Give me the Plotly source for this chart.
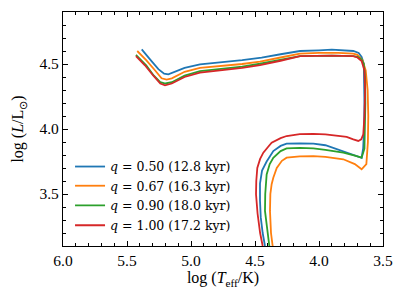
import plotly.graph_objects as go

# ---- data ----
labels = ["<i>q</i> = 0.50 (12.8 kyr)", "<i>q</i> = 0.67 (16.3 kyr)",
          "<i>q</i> = 0.90 (18.0 kyr)", "<i>q</i> = 1.00 (17.2 kyr)"]
colors = ["#1f77b4", "#ff7f0e", "#2ca02c", "#d62728"]

logT_q050 = [4.422, 4.44, 4.455, 4.461, 4.461, 4.445, 4.409, 4.357, 4.30, 4.253, 4.15, 4.044, 3.95, 3.81,
             3.72, 3.667, 3.655, 3.648, 3.645, 3.645, 3.65, 3.667, 3.69, 3.732, 3.80, 3.90, 4.0, 4.148,
             4.30, 4.448, 4.60, 4.80, 4.93, 5.05, 5.15, 5.177, 5.21, 5.255, 5.32, 5.385]
logL_q050 = [3.10, 3.20, 3.32, 3.45, 3.58, 3.68, 3.75, 3.83, 3.87, 3.887, 3.89, 3.887, 3.875, 3.83,
             3.80, 3.779, 3.85, 4.0, 4.2, 4.4, 4.5, 4.555, 4.585, 4.60, 4.605, 4.61, 4.605, 4.60,
             4.575, 4.549, 4.53, 4.51, 4.497, 4.47, 4.43, 4.42, 4.425, 4.46, 4.536, 4.613]

logT_q067 = [4.362, 4.375, 4.383, 4.38, 4.37, 4.357, 4.33, 4.29, 4.253, 4.15, 4.044, 3.95, 3.81, 3.72,
             3.667, 3.63, 3.618, 3.615, 3.62, 3.635, 3.66, 3.70, 3.732, 3.85, 4.0, 4.148, 4.30, 4.461,
             4.60, 4.80, 4.93, 5.05, 5.15, 5.19, 5.23, 5.28, 5.35, 5.42]
logL_q067 = [3.10, 3.20, 3.37, 3.50, 3.575, 3.625, 3.70, 3.755, 3.779, 3.79, 3.792, 3.785, 3.767, 3.73,
             3.69, 3.73, 3.90, 4.10, 4.30, 4.45, 4.53, 4.57, 4.58, 4.585, 4.585, 4.58, 4.55, 4.518,
             4.50, 4.485, 4.47, 4.44, 4.39, 4.38, 4.39, 4.45, 4.53, 4.60]

logT_q090 = [4.388, 4.41, 4.422, 4.42, 4.409, 4.385, 4.357, 4.30, 4.253, 4.15, 4.044, 3.95, 3.81, 3.72,
             3.667, 3.645, 3.64, 3.638, 3.64, 3.65, 3.667, 3.70, 3.732, 3.90, 4.148, 4.30, 4.461,
             4.60, 4.80, 4.93, 5.05, 5.15, 5.20, 5.24, 5.29, 5.35, 5.43]
logL_q090 = [3.10, 3.25, 3.37, 3.50, 3.65, 3.73, 3.779, 3.83, 3.851, 3.855, 3.851, 3.84, 3.818, 3.795,
             3.779, 3.85, 4.0, 4.2, 4.4, 4.5, 4.535, 4.555, 4.56, 4.565, 4.56, 4.53, 4.502,
             4.48, 4.46, 4.445, 4.41, 4.36, 4.35, 4.36, 4.41, 4.49, 4.57]

logT_q100 = [4.44, 4.46, 4.48, 4.492, 4.49, 4.482, 4.46, 4.435, 4.40, 4.37, 4.30, 4.253, 4.15, 4.044,
             3.95, 3.85, 3.784, 3.732, 3.693, 3.67, 3.654, 3.645, 3.64, 3.645, 3.667, 3.70, 3.732,
             3.90, 4.148, 4.30, 4.461, 4.60, 4.80, 4.93, 5.05, 5.15, 5.203, 5.24, 5.294, 5.36, 5.43]
logL_q100 = [3.10, 3.20, 3.35, 3.498, 3.60, 3.70, 3.77, 3.818, 3.86, 3.895, 3.93, 3.946, 3.96, 3.962,
             3.958, 3.95, 3.94, 3.92, 3.908, 3.92, 3.959, 4.10, 4.30, 4.45, 4.523, 4.55, 4.56,
             4.565, 4.56, 4.525, 4.492, 4.47, 4.45, 4.433, 4.40, 4.35, 4.336, 4.35, 4.41, 4.49, 4.56]

x_ticks = [6.0, 5.5, 5.0, 4.5, 4.0, 3.5]
y_ticks = [3.5, 4.0, 4.5]

series_x = [logT_q050, logT_q067, logT_q090, logT_q100]
series_y = [logL_q050, logL_q067, logL_q090, logL_q100]

FONT = "Liberation Serif"
LEG_FONT = "DejaVu Serif"

legend_names = ["legend", "legend2", "legend3", "legend4"]
legend_rows_y = [0.338, 0.256, 0.172, 0.087]   # paper-y of each legend row

fig = go.Figure()
for xs, ys, lab, col, lg in zip(series_x, series_y, labels, colors, legend_names):
    fig.add_trace(go.Scatter(x=xs, y=ys, mode="lines", name=lab, legend=lg,
                             line=dict(color=col, width=1.8)))

axis_common = dict(showline=True, linecolor="black", linewidth=1.2, mirror="ticks",
                   ticks="inside", ticklen=5, tickwidth=1, tickcolor="black",
                   showgrid=False, zeroline=False, automargin=False,
                   tickfont=dict(family=FONT, size=15.5, color="black"))

fig.update_xaxes(range=[6.0, 3.5], tickvals=x_ticks,
                 ticktext=[f"{v:.1f}" for v in x_ticks],
                 minor=dict(dtick=0.1, ticks="inside", ticklen=2.5, tickcolor="black", tickwidth=1),
                 title=dict(text="log (<i>T</i><sub>eff</sub>/K)",
                            font=dict(family=FONT, size=16, color="black"), standoff=4),
                 **axis_common)
fig.update_yaxes(range=[3.1, 4.9], tickvals=y_ticks,
                 ticktext=[f"{v:.1f}" for v in y_ticks],
                 minor=dict(tick0=3.1, dtick=0.1, ticks="inside", ticklen=2.5, tickcolor="black", tickwidth=1),
                 title=dict(text="log (<i>L</i>/L<sub>⊙</sub>)",
                            font=dict(family=FONT, size=16, color="black"), standoff=11),
                 **axis_common)

legend_style = dict(x=0.022, xanchor="left", yanchor="middle",
                    bgcolor="rgba(0,0,0,0)", borderwidth=0,
                    font=dict(family=LEG_FONT, size=12.5, color="black"), itemwidth=30)

fig.update_layout(
    width=406, height=303,
    margin=dict(l=63, r=23, t=12, b=57),
    plot_bgcolor="white", paper_bgcolor="white",
    showlegend=True,
    **{lg: dict(y=yy, **legend_style) for lg, yy in zip(legend_names, legend_rows_y)}
)

fig.write_html("out.html", config={"displayModeBar": False},
               post_script="document.body.style.margin='0';document.body.style.overflow='hidden';")
